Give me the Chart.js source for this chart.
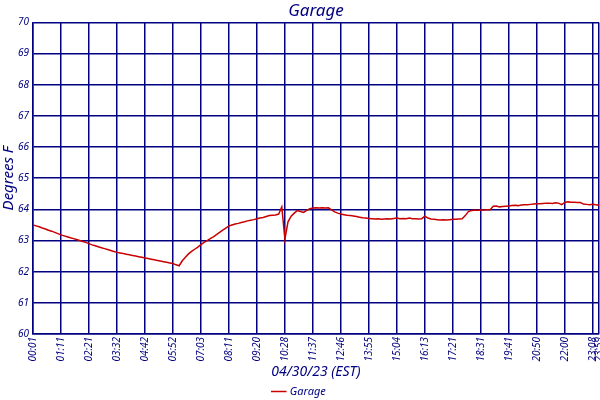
<!DOCTYPE html>
<html>
<head>
<meta charset="utf-8">
<script src="https://cdn.jsdelivr.net/npm/chart.js@4"></script>
<style>
  html, body { margin: 0; padding: 0; background: #ffffff; }
  #wrap { width: 600px; height: 400px; }
</style>
</head>
<body>
<div id="wrap"><canvas id="c" width="600" height="400"></canvas></div>
<script>
const chartTitle = 'Garage';
const seriesName = 'Garage';
const xTitle = '04/30/23 (EST)';
const yTitle = 'Degrees F';
const tickLabels = ['00:01','01:11','02:21','03:32','04:42','05:52','07:03','08:11','09:20','10:28',
  '11:37','12:46','13:55','15:04','16:13','17:21','18:31','19:41','20:50','22:00','23:08','23:59'];
const samplesPerTick = 9;
const yMin = 60, yMax = 70, yStep = 1;
const temps = [
  63.50, 63.47, 63.44, 63.40, 63.37, 63.33, 63.30, 63.26, 63.22, 63.18,
  63.15, 63.12, 63.09, 63.06, 63.03, 63.00, 62.97, 62.94, 62.90,
  62.86, 62.83, 62.80, 62.77, 62.74, 62.71, 62.68, 62.65, 62.62,
  62.60, 62.58, 62.56, 62.54, 62.52, 62.50, 62.48, 62.46, 62.44,
  62.42, 62.40, 62.38, 62.36, 62.34, 62.32, 62.30, 62.28, 62.26,
  62.22, 62.19, 62.35, 62.46, 62.57, 62.65, 62.72, 62.79, 62.87,
  62.94, 63.00, 63.06, 63.12, 63.19, 63.26, 63.33, 63.40, 63.47,
  63.50, 63.53, 63.55, 63.58, 63.60, 63.63, 63.65, 63.67, 63.70,
  63.72, 63.74, 63.77, 63.80, 63.81, 63.82, 63.85, 64.08, 63.05,
  63.60, 63.78, 63.88, 63.96, 63.93, 63.90, 63.97, 64.02, 64.04,
  64.05, 64.04, 64.05, 64.04, 64.05, 63.98, 63.92, 63.88, 63.85,
  63.83, 63.81, 63.80, 63.79, 63.77, 63.75, 63.73, 63.72, 63.71,
  63.70, 63.69, 63.70, 63.68, 63.69, 63.70, 63.69, 63.71, 63.72,
  63.70, 63.71, 63.70, 63.72, 63.70, 63.70, 63.69, 63.70, 63.78,
  63.72, 63.69, 63.68, 63.67, 63.66, 63.67, 63.66, 63.67, 63.68,
  63.68, 63.69, 63.70, 63.80, 63.93, 63.96, 63.97, 63.97, 63.98,
  63.98, 63.99, 63.99, 64.10, 64.11, 64.08, 64.09, 64.10, 64.11,
  64.12, 64.13, 64.12, 64.14, 64.15, 64.15, 64.16, 64.17, 64.18,
  64.18, 64.19, 64.20, 64.20, 64.19, 64.21, 64.20, 64.15, 64.22,
  64.24, 64.23, 64.23, 64.22, 64.22, 64.17, 64.16, 64.15, 64.16,
  64.15, 64.13
];

const NAVY = '#000080';
const RED = '#c80000';
const FONT = "'Noto Sans', 'Open Sans', sans-serif";

const lastIdx = temps.length - 1;
const tickIndex = tickLabels.map((_, i) => i < tickLabels.length - 1 ? i * samplesPerTick : lastIdx);
const labelAt = new Map(tickIndex.map((v, i) => [v, tickLabels[i]]));
const points = temps.map((v, i) => ({ x: i, y: v }));

new Chart(document.getElementById('c'), {
  type: 'line',
  data: {
    datasets: [{
      label: seriesName,
      data: points,
      borderColor: RED,
      backgroundColor: RED,
      borderWidth: 1.5,
      pointRadius: 0,
      tension: 0,
      fill: false
    }]
  },
  options: {
    responsive: false,
    animation: false,
    devicePixelRatio: 1,
    layout: { padding: { left: 0, right: 1, top: 0, bottom: -7 } },
    plugins: {
      title: { display: false },
      tooltip: { enabled: false },
      legend: {
        display: true,
        position: 'bottom',
        labels: {
          usePointStyle: true,
          pointStyle: 'line',
          boxWidth: 14,
          color: NAVY,
          font: { family: FONT, size: 11, style: 'italic' },
          padding: 2
        }
      }
    },
    scales: {
      x: {
        type: 'linear',
        min: 0,
        max: lastIdx,
        afterBuildTicks: (scale) => { scale.ticks = tickIndex.map(v => ({ value: v })); },
        afterFit: (s) => { s.paddingRight = 0; s.paddingLeft = 0; s.height = 50; },
        grid: { color: NAVY, lineWidth: 1.5, drawTicks: false },
        border: { color: NAVY, width: 1.5 },
        ticks: {
          autoSkip: false,
          minRotation: 90,
          maxRotation: 90,
          padding: 3,
          color: NAVY,
          font: { family: FONT, size: 10, style: 'italic' },
          callback: (v) => labelAt.has(v) ? labelAt.get(v) : ''
        },
        title: {
          display: true,
          text: xTitle,
          color: NAVY,
          font: { family: FONT, size: 14, style: 'italic' },
          padding: { top: 2, bottom: 4 }
        }
      },
      top: {
        type: 'linear',
        position: 'top',
        min: 0,
        max: lastIdx,
        grid: { display: false, drawTicks: false },
        border: { display: false },
        ticks: { display: false },
        title: {
          display: true,
          text: chartTitle,
          color: NAVY,
          font: { family: FONT, size: 17, style: 'italic' },
          padding: { top: 1, bottom: 1 }
        }
      },
      y: {
        min: yMin,
        max: yMax,
        afterFit: (s) => { s.width = 33; },
        grid: { color: NAVY, lineWidth: 1.5, drawTicks: false },
        border: { color: NAVY, width: 1.5 },
        ticks: {
          stepSize: yStep,
          padding: 4,
          color: NAVY,
          font: { family: FONT, size: 10, style: 'italic' }
        },
        title: {
          display: true,
          text: yTitle,
          color: NAVY,
          font: { family: FONT, size: 15, style: 'italic' },
          padding: { top: 0, bottom: 0 }
        }
      }
    }
  }
});
</script>
</body>
</html>
